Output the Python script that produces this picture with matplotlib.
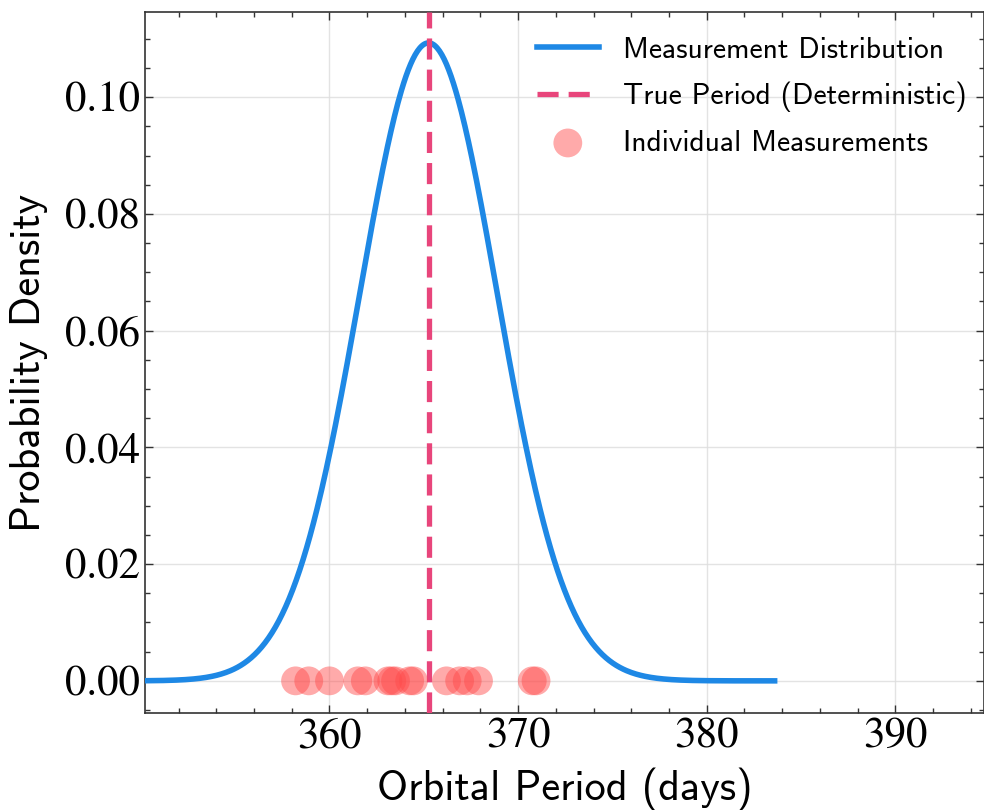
import numpy as np
import matplotlib
matplotlib.use('Agg')
import matplotlib.pyplot as plt
from matplotlib.ticker import MultipleLocator

# distribution of measured period
mean_period = 365.25
sigma_period = 3.65
curve_range = (346.9, 383.6)

measurements = [358.2, 358.9, 360.0, 361.5, 361.9, 363.1, 363.3, 363.5,
                364.25, 364.45, 366.2, 366.9, 367.3, 367.9, 370.75, 370.95]

xlim = (350.2, 394.7)
ylim = (-0.0055, 0.1146)
yticks = [0.00, 0.02, 0.04, 0.06, 0.08, 0.10]
xticks = [360, 370, 380, 390]

LABEL_FONT = 'cmss10'
TICK_FONT = 'STIXGeneral'

fig = plt.figure(figsize=(9.84, 8.1), dpi=100)
ax = fig.add_axes([0.147, 0.1198, 0.853, 0.8654])

xs = np.linspace(curve_range[0], curve_range[1], 600)
pdf = np.exp(-0.5 * ((xs - mean_period) / sigma_period) ** 2) / (sigma_period * np.sqrt(2 * np.pi))

ax.plot(xs, pdf, color='#1E88E5', lw=4.0, label='Measurement Distribution', zorder=3)
ax.axvline(mean_period, color='#E8457B', lw=3.8, ls=(0, (4.0, 1.9)),
           label='True Period (Deterministic)', zorder=4)
ax.scatter(measurements, np.zeros(len(measurements)), s=430, color='#FF4B4B',
           alpha=0.47, edgecolors='none', label='Individual Measurements', zorder=5)

ax.set_xlim(xlim)
ax.set_ylim(ylim)
ax.set_xticks(xticks)
ax.set_yticks(yticks)
ax.xaxis.set_minor_locator(MultipleLocator(2))
ax.yaxis.set_minor_locator(MultipleLocator(0.005))
ax.tick_params(which='both', direction='in', top=True, right=True, width=1.0, color='#333333')
ax.tick_params(which='major', length=6)
ax.tick_params(which='minor', length=3.5)
ax.set_yticklabels(['%.2f' % v for v in yticks], fontfamily=TICK_FONT, fontsize=31)
ax.set_xticklabels([str(v) for v in xticks], fontfamily=TICK_FONT, fontsize=31)

for sp in ax.spines.values():
    sp.set_color('#333333')
    sp.set_linewidth(1.2)

ax.grid(True, color='#DDDDDD', lw=1.0, alpha=0.8)
ax.set_axisbelow(True)

ax.set_xlabel('Orbital Period (days)', fontfamily=LABEL_FONT, fontsize=30.5, labelpad=8)
ax.set_ylabel('Probability Density', fontfamily=LABEL_FONT, fontsize=30.5, labelpad=12)

leg = ax.legend(loc='upper right', bbox_to_anchor=(0.993, 0.9816), frameon=False,
                prop={'family': LABEL_FONT, 'size': 21.3},
                handlelength=2.1, handletextpad=0.8, labelspacing=0.6, borderaxespad=0.0)

fig.savefig('out.png', dpi=100)
